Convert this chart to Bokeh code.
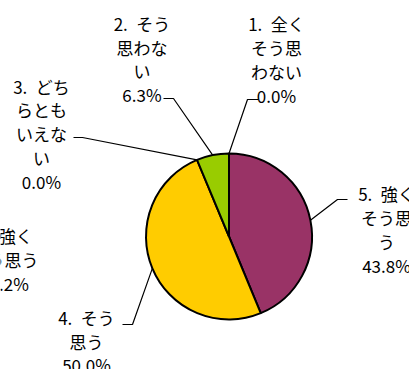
import math
from bokeh.plotting import figure
from bokeh.models import Range1d, ColumnDataSource
from bokeh.core.properties import value
from bokeh.embed import file_html
from bokeh.resources import INLINE

# ---- data (clockwise from 12 o'clock) ----
categories = ["5.\u2002強く\nそう思\nう", "4.\u2002そう\n思う", "3.\u2002どち\nらとも\nいえな\nい",
              "2.\u2002そう\n思わな\nい", "1.\u2002全く\nそう思\nわない"]
percents = [43.8, 50.0, 0.0, 6.3, 0.0]
colors = ["#993366", "#FFCC00", "#FF9900", "#99CC00", "#3366FF"]
# label of neighbouring chart, cut by the left edge
stray_label = "5.\u2002強く\nそう思う\n56.2%"

# ---- layout (reference pixel coordinates, y down) ----
W, H = 409, 369
center_px = (228.5, 236.0)
radius = 83.0
label_pos = [(386, 229), (86, 340.5), (41, 133), (141.5, 58.5), (276, 59)]
elbows = [(337, 199), (132, 324), (82, 137), (173, 98), (247, 99)]
leg_ends = [(347, 199), (122, 324), (73, 137), (163, 98), (258, 99)]
stray_pos = (4, 259)
FONT = "Noto Sans CJK JP"
FS = "17px"
LH = 0.95


def Y(ry):
    return H - ry


p = figure(width=W, height=H, x_range=Range1d(0, W), y_range=Range1d(0, H),
           output_backend="svg", toolbar_location=None, min_border=0)
p.axis.visible = False
p.grid.visible = False
p.outline_line_color = None
p.background_fill_color = "white"
p.border_fill_color = "white"

cx, cy = center_px[0], Y(center_px[1])
total = sum(percents)
starts, ends, mids = [], [], []
a = math.pi / 2
for v in percents:
    da = 2 * math.pi * v / total
    starts.append(a)
    ends.append(a - da)
    mids.append(a - da / 2)
    a -= da

# leader lines
xs, ys = [], []
for m, el, en in zip(mids, elbows, leg_ends):
    xs.append([cx + radius * math.cos(m), el[0], en[0]])
    ys.append([cy + radius * math.sin(m), Y(el[1]), Y(en[1])])
p.multi_line(xs=xs, ys=ys, line_color="black", line_width=1.2)

# wedges (non-zero only)
idx = [i for i, v in enumerate(percents) if v > 0]
src = ColumnDataSource(dict(
    x=[cx] * len(idx), y=[cy] * len(idx),
    s=[starts[i] for i in idx], e=[ends[i] for i in idx],
    c=[colors[i] for i in idx]))
p.wedge(x="x", y="y", radius=radius, start_angle="s", end_angle="e", direction="clock",
        fill_color="c", line_color="black", line_width=2, source=src)

# labels
texts = [f"{c}\n{v:.1f}%" for c, v in zip(categories, percents)]
lsrc = ColumnDataSource(dict(
    x=[lp[0] for lp in label_pos], y=[Y(lp[1]) for lp in label_pos], t=texts))
p.text(x="x", y="y", text="t", source=lsrc, text_align="center", text_baseline="middle",
       text_font=value(FONT), text_font_size=FS, text_line_height=LH, text_color="black")
p.text(x=[stray_pos[0]], y=[Y(stray_pos[1])], text=[stray_label], text_align="center",
       text_baseline="middle", text_font=value(FONT), text_font_size=FS,
       text_line_height=LH, text_color="black")

open("out.html", "w").write(file_html(p, INLINE))
